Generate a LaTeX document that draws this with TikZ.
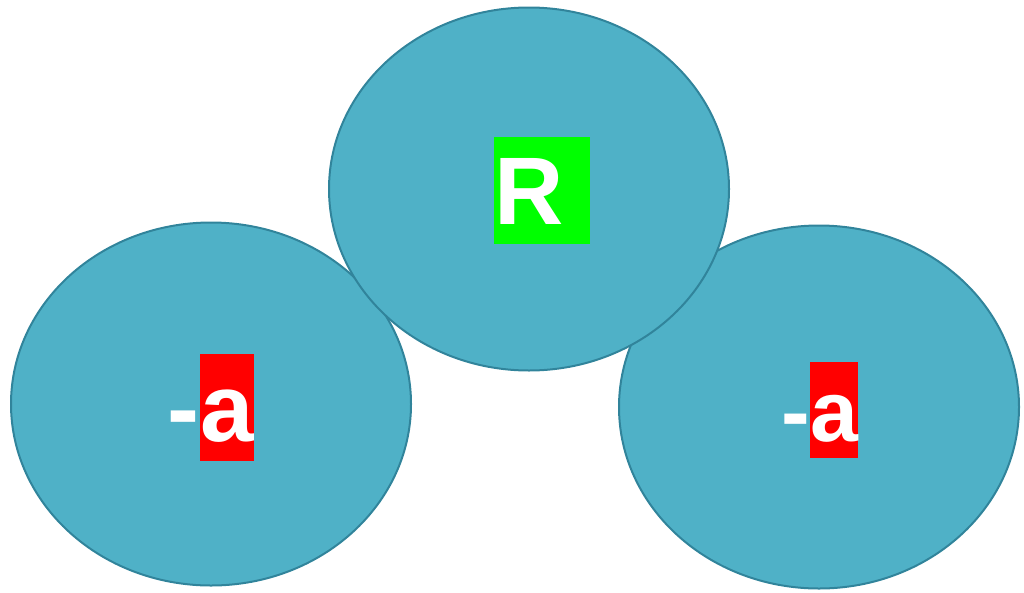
\documentclass[tikz,border=0pt]{standalone}
\usepackage{fontspec}
\setmainfont{Liberation Sans}
\usetikzlibrary{positioning,shapes.geometric}
\definecolor{colorfill} {RGB}{79 ,177,199}
\definecolor{colorline} {RGB}{49 ,132,155}
\definecolor{colorgreen}{RGB}{0  ,255,0  }
\definecolor{colorred}  {RGB}{255,0  ,0  }

\begin{document}
\begin{tikzpicture}[
    x=1pt, y=-1pt,
    blob/.style={ellipse,draw=colorline,fill=colorfill,line width=2pt,
                 minimum width=400pt,minimum height=363pt,inner sep=0pt},
    big/.style={text=white,inner sep=0pt,anchor=base west,
                font={\fontsize{96}{107}\selectfont\bfseries},
                text height=87pt,text depth=20pt},
    small/.style={big,font={\fontsize{86}{96}\selectfont\bfseries},
                text height=79pt,text depth=17pt},
    minus/.style={text=white,inner sep=0pt,anchor=base east},
]

    \useasboundingbox (0,0) rectangle (1024,592);

    \node[blob] (left)  at (211,404) {};
    \node[blob] (right) at (819,407) {};
    \node[blob] (top)   at (529,189) {};

    \node[big,fill=colorgreen]   (r)  at (494,224) {R\kern0.278em};

    \node[big,fill=colorred]     (la) at (200,441) {a};
    \node[minus,font={\fontsize{96}{107}\selectfont\bfseries}]
                                 (lm) at (la.base west) {-};

    \node[small,fill=colorred]   (ra) at (810,441) {a};
    \node[minus,font={\fontsize{86}{96}\selectfont\bfseries}]
                                 (rm) at (ra.base west) {-};

\end{tikzpicture}
\end{document}
